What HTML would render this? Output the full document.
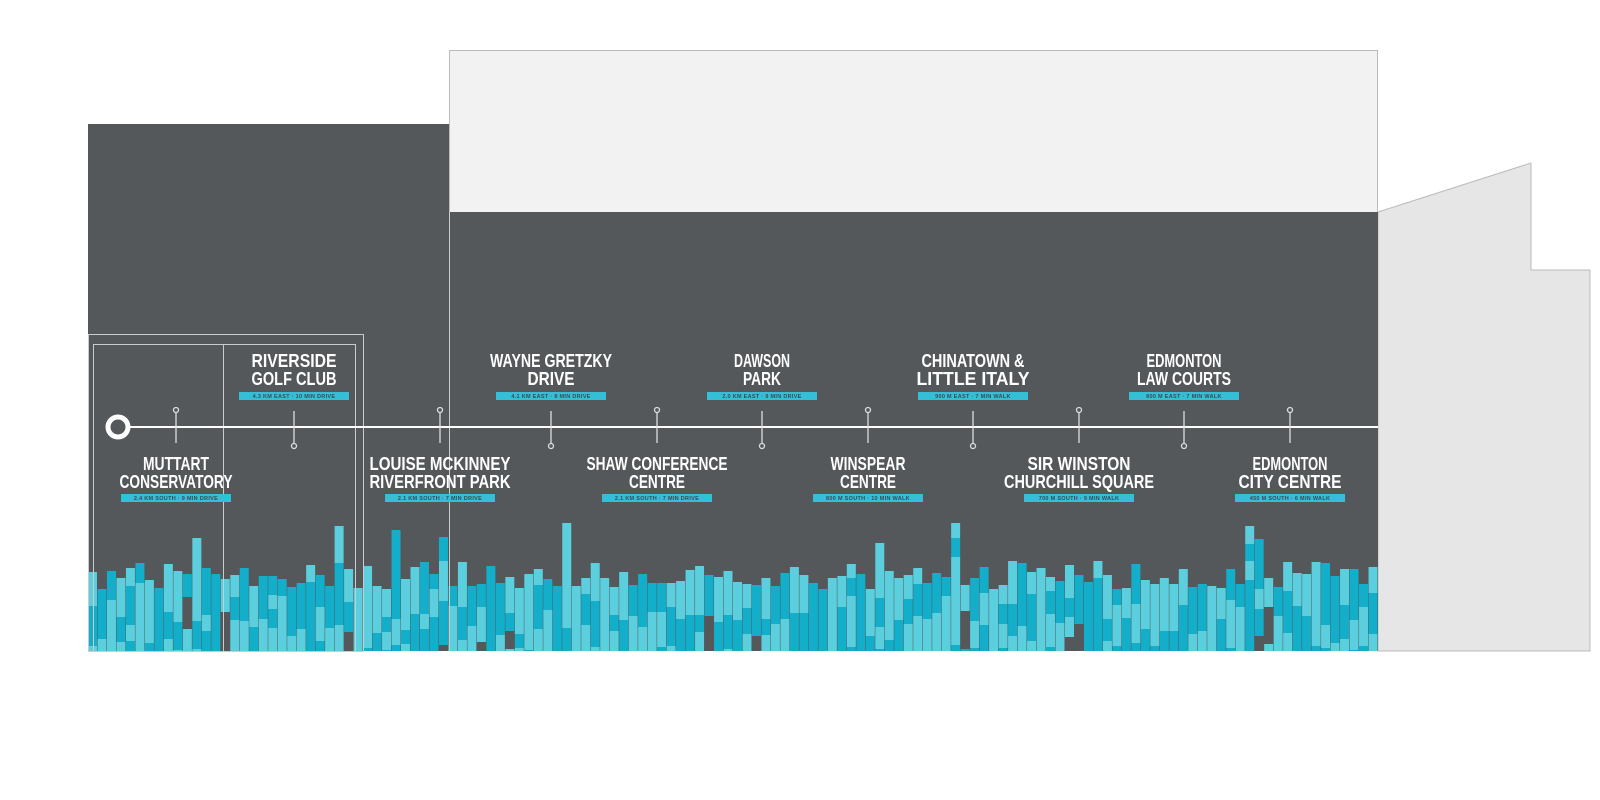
<!DOCTYPE html>
<html><head><meta charset="utf-8"><style>
html,body{margin:0;padding:0;background:#fff;}
body{width:1600px;height:800px;position:relative;overflow:hidden;font-family:"Liberation Sans",sans-serif;}
svg{position:absolute;left:0;top:0;}
.t{font-family:"Liberation Sans",sans-serif;font-weight:bold;font-size:18px;fill:#fff;text-anchor:middle;}
.s{font-family:"Liberation Sans",sans-serif;font-weight:bold;font-size:5.5px;fill:#3d4a50;text-anchor:middle;letter-spacing:0.3px;}
</style></head><body>
<svg id="sv" width="1600" height="800" viewBox="0 0 1600 800" xmlns="http://www.w3.org/2000/svg">
<rect x="449.5" y="50.5" width="928" height="162" fill="#f2f2f3" stroke="#bbb" stroke-width="1"/>
<polygon points="1378,212 1531,163 1531,270 1590,270 1590,651 1378,651" fill="#e6e6e7" stroke="#bbb" stroke-width="1"/>
<rect x="88" y="124" width="361" height="527" fill="#54585b"/>
<rect x="449" y="212" width="929" height="439" fill="#54585b"/>
<g id="barsg"></g>
<g fill="none" stroke="#c9cbcc" stroke-width="1">
<rect x="88.5" y="334.5" width="275" height="317"/>
<rect x="93.5" y="344.5" width="262" height="307"/>
<line x1="223.5" y1="344" x2="223.5" y2="651"/>
<line x1="449.5" y1="212" x2="449.5" y2="651"/>
</g>
<line x1="128" y1="427" x2="1378" y2="427" stroke="#fff" stroke-width="2"/>
<circle cx="118" cy="427" r="10" fill="none" stroke="#fff" stroke-width="5"/>
<g id="stopsg" stroke="#ddd" stroke-width="1.3" fill="#54585b"></g>
<g id="labelsg"></g>
</svg>
<script>
(function(){
var NS="http://www.w3.org/2000/svg";
function el(p,t,a,txt){var e=document.createElementNS(NS,t);for(var k in a)e.setAttribute(k,a[k]);if(txt!=null)e.textContent=txt;p.appendChild(e);return e;}
var cnt=1;function rnd(){cnt++;var v=Math.sin(cnt*12.9898+3.1)*43758.5453;return v-Math.floor(v);}
var bg=document.getElementById('barsg');
var cols=136,x0=88,x1=1378,w=(x1-x0)/cols;
for(var i=0;i<cols;i++){
  var x=x0+i*w;var ty=560+Math.floor(rnd()*30);
  if(rnd()<0.07)ty=515+Math.floor(rnd()*30);
  var y=ty;var c=rnd()<0.65?0:1;
  while(y<651){
    var h=14+Math.floor(rnd()*40);if(y+h>651)h=651-y;
    var col=["#5bcfdd","#13aec9"][c];
    if(rnd()<0.05&&y>595)col="#54585b";
    el(bg,'rect',{x:x.toFixed(2),y:y,width:(w-0.5).toFixed(2),height:h,fill:col});
    y+=h;c=(rnd()<0.7)?1-c:c;
  }
}
var st=document.getElementById('stopsg');
[176,440,657,868,1079,1290].forEach(function(x){el(st,'line',{x1:x,y1:413,x2:x,y2:443});el(st,'circle',{cx:x,cy:410,r:2.5});});
[294,551,762,973,1184].forEach(function(x){el(st,'line',{x1:x,y1:411,x2:x,y2:443});el(st,'circle',{cx:x,cy:446,r:2.5});});
var L=document.getElementById('labelsg');
function tx(x,y,s){el(L,'text',{x:x,y:y,'class':'t',textLength:(s.length*9.4).toFixed(0),lengthAdjust:'spacingAndGlyphs'},s);}
function lab(x,top,l1,l2,sub){
  var y=top?367:470;
  tx(x,y,l1);tx(x,y+18,l2);
  var by=top?392:494;
  el(L,'rect',{x:x-55,y:by,width:110,height:8,fill:'#34bfd6'});
  el(L,'text',{x:x,y:by+6,'class':'s'},sub);
}
lab(294,1,'RIVERSIDE','GOLF CLUB','4.3 KM EAST · 10 MIN DRIVE');
lab(551,1,'WAYNE GRETZKY','DRIVE','4.1 KM EAST · 8 MIN DRIVE');
lab(762,1,'DAWSON','PARK','2.0 KM EAST · 9 MIN DRIVE');
lab(973,1,'CHINATOWN &','LITTLE ITALY','900 M EAST · 7 MIN WALK');
lab(1184,1,'EDMONTON','LAW COURTS','800 M EAST · 7 MIN WALK');
lab(176,0,'MUTTART','CONSERVATORY','2.4 KM SOUTH · 9 MIN DRIVE');
lab(440,0,'LOUISE MCKINNEY','RIVERFRONT PARK','2.1 KM SOUTH · 7 MIN DRIVE');
lab(657,0,'SHAW CONFERENCE','CENTRE','2.1 KM SOUTH · 7 MIN DRIVE');
lab(868,0,'WINSPEAR','CENTRE','800 M SOUTH · 10 MIN WALK');
lab(1079,0,'SIR WINSTON','CHURCHILL SQUARE','700 M SOUTH · 9 MIN WALK');
lab(1290,0,'EDMONTON','CITY CENTRE','450 M SOUTH · 6 MIN WALK');
})();
</script>
</body></html>
